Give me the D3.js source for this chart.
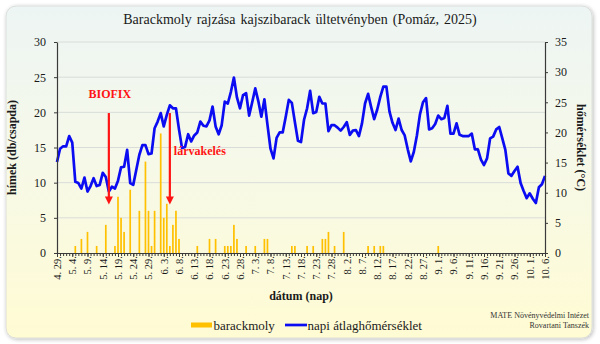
<!DOCTYPE html>
<html>
<head>
<meta charset="utf-8">
<script src="https://cdn.jsdelivr.net/npm/d3@7"></script>
<style>
  html, body { margin: 0; padding: 0; background: #ffffff; }
  svg { display: block; font-family: "Liberation Serif", "Times New Roman", serif; }
</style>
</head>
<body>
<svg id="chart" width="600" height="344"></svg>
<script>
// Observation period (one value per day)
const firstDay = "2025-04-29";
const lastDay = "2025-10-06";

// Daily mean air temperature (°C), Apr 29 – Oct 6
const temperature = [
  15.1, 17.3,
  17.7, 17.7, 19.4, 18.3, 11.8, 11.6, 10.7, 12.5, 10.2, 11.1, 12.4, 11.1, 11.3, 13.3, 12.6, 10.2,
  11.0, 10.7, 12.0, 14.2, 14.3, 17.1, 11.6, 11.3, 13.8, 16.3, 17.9, 17.9, 16.4, 16.5, 20.7,
  21.8, 23.2, 21.0, 22.9, 24.5, 24.0, 24.0, 20.5, 17.4, 17.6, 19.7, 18.5, 19.5, 20.0, 21.8,
  21.1, 21.0, 22.0, 24.3, 21.0, 19.7, 21.2, 25.1, 24.8, 26.7, 29.1, 25.8, 24.0, 26.2, 26.5,
  22.8, 25.0, 27.3, 25.2, 22.6, 25.5, 21.3, 17.3, 15.7, 19.1, 20.0, 20.0, 22.6, 25.4, 24.9, 21.7,
  18.6, 18.4, 22.1, 24.0, 26.9, 23.2, 23.4, 25.9, 24.8, 24.8, 20.2, 21.2, 21.2, 20.8, 20.3,
  20.9, 21.7, 19.6, 20.3, 20.4, 19.4, 21.5, 24.8, 26.4, 24.2, 22.2, 23.8, 25.9, 27.6, 27.6, 23.5,
  21.6, 20.4, 22.3, 20.4, 19.5, 17.2, 15.2, 16.8, 19.5, 23.0, 25.0, 25.7, 20.5, 20.7, 21.4,
  22.8, 22.2, 22.4, 24.4, 19.8, 19.8, 21.5, 19.6, 19.4, 19.4, 19.4, 19.8, 17.2, 17.2, 15.5,
  14.6, 15.7, 19.0, 19.3, 20.5, 20.9, 19.0, 17.1, 13.2, 12.8, 13.6, 14.3, 11.6, 10.3, 9.1,
  9.9, 9.0, 8.3, 10.9, 11.4, 12.8
];

// Peach twig borer males caught per trap (pcs/trap), same days
const mothCounts = [
  0, 0,
  0, 0, 0, 0, 1, 0, 2, 0, 3, 0, 0, 1, 0, 0, 4, 0,
  0, 1, 8, 5, 3, 0, 9, 0, 0, 6, 0, 13, 6, 1, 6,
  0, 17, 5, 7, 1, 4, 6, 2, 0, 0, 0, 0, 0, 1, 0,
  0, 0, 2, 0, 2, 0, 0, 1, 1, 1, 4, 2, 0, 0, 1,
  0, 0, 1, 0, 0, 2, 2, 0, 0, 0, 0, 0, 0, 0, 1, 1,
  0, 0, 0, 1, 0, 1, 0, 0, 2, 2, 3, 0, 1, 0, 0,
  3, 0, 0, 0, 0, 0, 0, 0, 1, 0, 1, 0, 1, 1, 0, 0,
  0, 0, 0, 0, 0, 0, 0, 0, 0, 0, 0, 0, 0, 0, 0,
  1, 0, 0, 0, 0, 0, 0, 0, 0, 0, 0, 0, 0, 0, 0,
  0, 0, 0, 0, 0, 0, 0, 0, 0, 0, 0, 0, 0, 0, 0,
  0, 0, 0, 0, 0, 0
];

const countTicks = [0, 5, 10, 15, 20, 25, 30];
const tempTicks = [0, 5, 10, 15, 20, 25, 30, 35];
const labelEvery = 5; // a date label on every fifth day

// Marked phenological events
const eventLabels = ["BIOFIX", "lárvakelés"];
const eventDates = ["2025-05-16", "2025-06-05"];

const titleText = "Barackmoly rajzása kajszibarack ültetvényben (Pomáz, 2025)";
const seriesNames = ["barackmoly", "napi átlaghőmérséklet"];
const creditLines = ["MATE Növényvédelmi Intézet", "Rovartani Tanszék"];

// ---- derived category list -------------------------------------------
const parseDay = d3.utcParse("%Y-%m-%d");
const days = d3.utcDay.range(parseDay(firstDay), d3.utcDay.offset(parseDay(lastDay), 1));
const fmtDay = d => `${d.getUTCMonth() + 1}. ${d.getUTCDate()}.`;
const categories = days.map(fmtDay);
const dayIndex = s => d3.utcDay.count(parseDay(firstDay), parseDay(s));

// ---- layout ------------------------------------------------------------
const svg = d3.select("#chart");
const plot = { left: 57, right: 545, top: 42, bottom: 253 };

const x = d3.scaleLinear().domain([0, categories.length - 1]).range([plot.left, plot.right]);
const yL = d3.scaleLinear().domain([0, 30]).range([plot.bottom, plot.top]);
const yR = d3.scaleLinear().domain([0, 35]).range([plot.bottom, plot.top]);

const defs = svg.append("defs");
const bg = defs.append("linearGradient").attr("id", "panelFill")
  .attr("x1", 0).attr("y1", 0).attr("x2", 0).attr("y2", 1);
bg.append("stop").attr("offset", "0%").attr("stop-color", "#edf5f4");
bg.append("stop").attr("offset", "45%").attr("stop-color", "#f6f9e9");
bg.append("stop").attr("offset", "100%").attr("stop-color", "#fffbd3");

const shadow = defs.append("filter").attr("id", "soft")
  .attr("x", "-5%").attr("y", "-5%").attr("width", "110%").attr("height", "110%");
shadow.append("feGaussianBlur").attr("in", "SourceAlpha").attr("stdDeviation", 2.2);
shadow.append("feOffset").attr("dx", 1).attr("dy", 1).attr("result", "b");
shadow.append("feComponentTransfer").append("feFuncA").attr("type", "linear").attr("slope", 0.28);
const merge = shadow.append("feMerge");
merge.append("feMergeNode");
merge.append("feMergeNode").attr("in", "SourceGraphic");

svg.append("rect")
  .attr("x", 6).attr("y", 6).attr("width", 586).attr("height", 332)
  .attr("rx", 10).attr("ry", 10)
  .attr("fill", "url(#panelFill)")
  .attr("stroke", "#d6d9d6").attr("stroke-width", 0.8)
  .attr("filter", "url(#soft)");

// ---- title --------------------------------------------------------------
svg.append("text")
  .attr("x", 300).attr("y", 24)
  .attr("text-anchor", "middle")
  .attr("font-size", 14)
  .attr("word-spacing", 1.5)
  .attr("fill", "#1a1a1a")
  .text(titleText);

// ---- gridlines ----------------------------------------------------------
svg.append("g")
  .selectAll("line")
  .data(countTicks.filter(v => v > 0))
  .join("line")
  .attr("x1", plot.left).attr("x2", plot.right)
  .attr("y1", d => yL(d)).attr("y2", d => yL(d))
  .attr("stroke", "#d9dcd9").attr("stroke-width", 1);

// ---- bars (moth catches) ------------------------------------------------
svg.append("g")
  .selectAll("rect")
  .data(mothCounts.map((v, i) => ({ i, v })).filter(d => d.v > 0))
  .join("rect")
  .attr("x", d => x(d.i) - 0.85)
  .attr("width", 1.7)
  .attr("y", d => yL(d.v))
  .attr("height", d => yL(0) - yL(d.v))
  .attr("fill", "#ffc000");

// ---- temperature line ---------------------------------------------------
svg.append("path")
  .datum(temperature)
  .attr("fill", "none")
  .attr("stroke", "#0c0cf2")
  .attr("stroke-width", 2.7)
  .attr("stroke-linejoin", "round")
  .attr("d", d3.line().x((d, i) => x(i)).y(d => yR(d)));

// ---- axes ---------------------------------------------------------------
const axisColor = "#3a3a3a";
function styleAxis(g) {
  g.select(".domain").attr("stroke", axisColor).attr("stroke-width", 1.2);
  g.selectAll(".tick line").attr("stroke", axisColor);
  g.selectAll(".tick text").attr("fill", "#1a1a1a").attr("font-family", "Liberation Serif, serif");
}

const leftAxis = svg.append("g")
  .attr("transform", `translate(${plot.left},0)`)
  .call(d3.axisLeft(yL).tickValues(countTicks).tickSize(3).tickSizeOuter(0).tickPadding(8))
  .call(styleAxis);
leftAxis.selectAll(".tick text").attr("font-size", 12);

const rightAxis = svg.append("g")
  .attr("transform", `translate(${plot.right},0)`)
  .call(d3.axisRight(yR).tickValues(tempTicks).tickSize(3).tickSizeOuter(0).tickPadding(7))
  .call(styleAxis);
rightAxis.selectAll(".tick text").attr("font-size", 12);

// daily minor ticks
svg.append("g")
  .attr("transform", `translate(0,${plot.bottom})`)
  .call(d3.axisBottom(x).tickValues(d3.range(categories.length)).tickSize(3).tickSizeOuter(0).tickFormat(""))
  .call(styleAxis);

// labelled ticks every fifth day
const labelIdx = d3.range(0, categories.length, labelEvery);
const bottomAxis = svg.append("g")
  .attr("transform", `translate(0,${plot.bottom})`)
  .call(d3.axisBottom(x).tickValues(labelIdx).tickSize(4).tickSizeOuter(0).tickFormat(i => categories[i]))
  .call(styleAxis);
bottomAxis.select(".domain").remove();
bottomAxis.selectAll(".tick text")
  .attr("font-size", 10.5)
  .attr("text-anchor", "end")
  .attr("transform", "translate(0,3) rotate(-90)")
  .attr("x", 0).attr("y", 0)
  .attr("dy", "0.33em")
  .attr("dx", 0);

// ---- axis titles --------------------------------------------------------
svg.append("text")
  .attr("transform", `translate(16,${(plot.top + plot.bottom) / 2}) rotate(-90)`)
  .attr("text-anchor", "middle")
  .attr("font-size", 12).attr("font-weight", "bold").attr("fill", "#1a1a1a")
  .text("hímek (db/csapda)");

svg.append("text")
  .attr("transform", `translate(577,${(plot.top + plot.bottom) / 2}) rotate(90)`)
  .attr("text-anchor", "middle")
  .attr("font-size", 12).attr("font-weight", "bold").attr("fill", "#1a1a1a")
  .text("hőmérséklet (°C)");

svg.append("text")
  .attr("x", (plot.left + plot.right) / 2).attr("y", 300)
  .attr("text-anchor", "middle")
  .attr("font-size", 12).attr("font-weight", "bold").attr("fill", "#1a1a1a")
  .text("dátum (nap)");

// ---- event arrows -------------------------------------------------------
const red = "#ff1414";
const arrows = svg.append("g");
eventDates.forEach((d, k) => {
  const ax = x(dayIndex(d));
  const yTop = yL(19.9), yTip = yL(6.9);
  arrows.append("line")
    .attr("x1", ax).attr("x2", ax)
    .attr("y1", yTop).attr("y2", yTip - 7)
    .attr("stroke", red).attr("stroke-width", 2.2);
  arrows.append("path")
    .attr("d", `M${ax - 4},${yTip - 8} L${ax + 4},${yTip - 8} L${ax},${yTip} Z`)
    .attr("fill", red);
});
arrows.append("text")
  .attr("x", x(dayIndex(eventDates[0])) + 1).attr("y", yL(22.0))
  .attr("text-anchor", "middle")
  .attr("font-size", 12).attr("font-weight", "bold").attr("fill", red)
  .text(eventLabels[0]);
arrows.append("text")
  .attr("x", x(dayIndex(eventDates[1])) + 4).attr("y", yL(14.0))
  .attr("text-anchor", "start")
  .attr("font-size", 12).attr("font-weight", "bold").attr("fill", red)
  .text(eventLabels[1]);

// ---- legend -------------------------------------------------------------
const legend = svg.append("g");
legend.append("rect")
  .attr("x", 191).attr("y", 322.5).attr("width", 21).attr("height", 5)
  .attr("fill", "#ffc000");
legend.append("text")
  .attr("x", 213.5).attr("y", 329.5)
  .attr("font-size", 13).attr("fill", "#1a1a1a")
  .text(seriesNames[0]);
legend.append("line")
  .attr("x1", 285).attr("x2", 307).attr("y1", 325).attr("y2", 325)
  .attr("stroke", "#0c0cf2").attr("stroke-width", 2.7);
legend.append("text")
  .attr("x", 307.5).attr("y", 329.5)
  .attr("font-size", 13).attr("fill", "#1a1a1a")
  .text(seriesNames[1]);

// ---- credit -------------------------------------------------------------
svg.append("g").selectAll("text")
  .data(creditLines)
  .join("text")
  .attr("x", 589).attr("y", (d, i) => 318 + i * 10)
  .attr("text-anchor", "end")
  .attr("font-size", 8).attr("fill", "#333")
  .text(d => d);
</script>
</body>
</html>
